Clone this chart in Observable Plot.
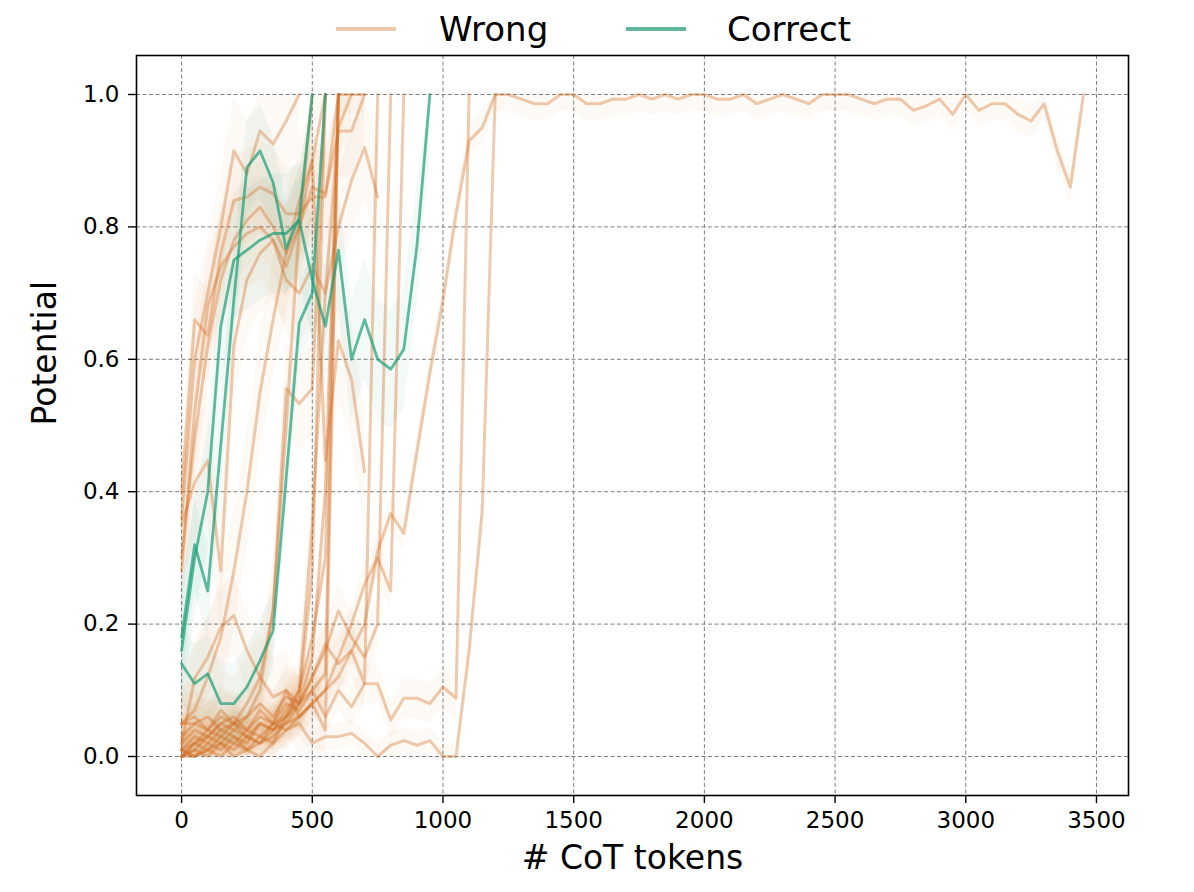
<!DOCTYPE html>
<html>
<head>
<meta charset="utf-8">
<script src="https://cdn.jsdelivr.net/npm/d3@7"></script>
<script src="https://cdn.jsdelivr.net/npm/@observablehq/plot@0.6"></script>
<style>
  body { margin: 0; background: #fff; font-family: "DejaVu Sans", sans-serif; }
  #wrap { position: relative; width: 1194px; height: 892px; }
  #legend { position: relative; width: 1194px; height: 50px; }
  .leg-line { position: absolute; height: 4px; top: 27px; width: 60px; }
  .leg-text { position: absolute; top: 9px; font-size: 34px; color: #000; line-height: 40px; }
</style>
</head>
<body>
<div id="wrap">
  <div id="legend">
    <div class="leg-line" style="left:336px;background:#ecc9ab;"></div>
    <div class="leg-text" style="left:439px;">Wrong</div>
    <div class="leg-line" style="left:626px;background:#60b898;"></div>
    <div class="leg-text" style="left:727px;">Correct</div>
  </div>
  <div id="chart"></div>
</div>
<script>
// sampling step of every trajectory (tokens)
const STEP = 50;
const xTicks = [0, 500, 1000, 1500, 2000, 2500, 3000, 3500];
const yTicks = [0, 0.2, 0.4, 0.6, 0.8, 1.0];

// ---- Wrong trajectories (potential every 50 tokens, starting at 0) ----
const w01 = [0.36,0.60,0.70,0.80,0.915,0.88,0.945,0.925,0.96,1.0];
const w02 = [0.40,0.66,0.636,0.76,0.84,0.845,0.86,0.85,0.82,0.82,0.845,0.845,1.0];
const w03 = [0.30,0.48,0.62,0.72,0.78,0.81,0.83,0.80,0.76,0.80,0.86,0.85,0.945,0.945,1.0];
const w04 = [0.35,0.414,0.447,0.28,0.62,0.72,0.76,0.78,0.74,0.80,0.90,1.0];
const w05 = [0.28,0.52,0.68,0.74,0.77,0.79,0.80,0.78,0.72,0.70,0.74,0.70,0.80,0.87,0.92,0.845];
const w06 = [0.03,0.05,0.04,0.06,0.05,0.08,0.12,0.22,0.556,0.533,0.556,1.0];
const w07 = [0.05,0.07,0.12,0.18,0.28,0.40,0.55,0.66,0.76,0.84,0.90,0.447,0.628,0.57,0.43];
const w08 = [0.0,0.02,0.01,0.03,0.02,0.04,0.03,0.05,0.06,0.08,0.10,0.125,1.0];
const w09 = [0.01,0.0,0.02,0.01,0.03,0.02,0.05,0.04,0.07,0.10,0.18,0.30,1.0,1.0,1.0];
const w10 = [0.05,0.06,0.04,0.07,0.05,0.06,0.08,0.06,0.09,0.08,0.12,0.16,0.22,0.18,0.15,0.20,1.0];
const w11 = [0.0,0.01,0.03,0.02,0.04,0.03,0.02,0.05,0.04,0.06,0.08,0.10,0.15,0.20,0.26,0.30,0.25,1.0];
const w12 = [0.02,0.04,0.03,0.05,0.06,0.04,0.07,0.05,0.10,0.08,0.12,0.17,0.14,0.16,0.11,1.0];
const w13 = [0.05,0.05,0.06,0.04,0.05,0.03,0.05,0.04,0.06,0.09,0.28,1.0];
const w14 = [0.01,0.03,0.02,0.04,0.03,0.01,0.02,0.03,0.05,0.08,0.15,0.40,1.0];
const w15 = [0.0,0.0,0.01,0.0,0.02,0.01,0.0,0.02,0.06,0.10,0.35,0.70,0.95,1.0];
const w16 = [0.02,0.118,0.15,0.195,0.213,0.16,0.12,0.09,0.10,0.06,0.08,0.04,1.0];
const w17 = [0.01,0.02,0.03,0.05,0.04,0.06,0.10,0.22,0.50,0.80,1.0];
const wB  = [0.0,0.02,0.04,0.03,0.05,0.04,0.06,0.05,0.08,0.07,0.10,0.06,0.10,0.075,0.11,0.11,0.055,0.088,0.088,0.08,0.105,0.088,1.0];
const wC  = [0.01,0.0,0.01,0.02,0.0,0.01,0.03,0.02,0.04,0.05,0.02,0.03,0.03,0.035,0.02,0.0,0.017,0.024,0.017,0.024,0.0,0.0,0.16,0.37,1.0];
const wLong = [0.0,0.01,0.0,0.02,0.01,0.03,0.02,0.04,0.05,0.06,0.08,0.10,0.12,0.16,0.20,0.31,0.367,0.337,0.46,0.58,0.69,0.82,0.93,0.95,1.0,
  1.0,0.993,0.986,0.986,1.0,1.0,0.986,0.986,0.993,0.993,1.0,0.993,1.0,0.993,1.0,
  1.0,0.993,0.993,1.0,0.986,0.993,1.0,0.993,0.986,1.0,1.0,1.0,0.993,0.986,0.993,0.993,0.976,0.983,0.993,0.97,
  1.0,0.976,0.986,0.986,0.97,0.96,0.986,0.915,0.86,1.0];
const wrongList = [w01,w02,w03,w04,w05,w06,w07,w08,w09,w10,w11,w12,w13,w14,w15,w16,w17,wB,wC,wLong];
// half-width of the shaded band for each wrong trajectory
const wrongSpread = [0.08,0.07,0.07,0.09,0.08,0.07,0.09,0.03,0.03,0.04,0.03,0.04,0.03,0.03,0.05,0.06,0.05,0.03,0.02,0.025];

// ---- Correct trajectories ----
const c1 = [0.18,0.32,0.25,0.47,0.69,0.89,0.915,0.867,0.767,0.814,1.0];
const c2 = [0.14,0.11,0.125,0.08,0.08,0.105,0.145,0.19,0.42,0.655,0.70,1.0];
const c3 = [0.16,0.30,0.40,0.65,0.75,0.765,0.78,0.79,0.79,0.81,0.72,0.65,0.765,0.60,0.66,0.60,0.585,0.615,0.77,1.0];
const correctList = [c1,c2,c3];
const correctSpread = [0.07,0.06,0.09];

function rowsOf(list, spreads, kind) {
  const out = [];
  list.forEach((vals, k) => {
    vals.forEach((v, i) => {
      out.push({id: kind + k, kind, x: i * STEP, y: v,
        lo: Math.max(0, v - spreads[k]), hi: Math.min(1, v + spreads[k])});
    });
  });
  return out;
}
const wrongRows = rowsOf(wrongList, wrongSpread, "w");
const correctRows = rowsOf(correctList, correctSpread, "c");

const WRONG = "#d2691e", CORRECT = "#1b9e77";
const font = "DejaVu Sans, sans-serif";
const grid = {stroke: "#7f7f7f", strokeOpacity: 1, strokeWidth: 1, strokeDasharray: "4,2.5"};

const chart = Plot.plot({
  width: 1194, height: 842,
  marginLeft: 136, marginRight: 66, marginTop: 5, marginBottom: 97,
  style: {fontFamily: font, background: "#fff"},
  x: {domain: [-172.5, 3622.5]},
  y: {domain: [-0.0589, 1.0589]},
  marks: [
    Plot.gridX(xTicks, grid),
    Plot.gridY(yTicks, grid),
    Plot.areaY(wrongRows, {x: "x", y1: "lo", y2: "hi", z: "id", fill: WRONG, fillOpacity: 0.045}),
    Plot.areaY(correctRows, {x: "x", y1: "lo", y2: "hi", z: "id", fill: CORRECT, fillOpacity: 0.06}),
    Plot.line(wrongRows, {x: "x", y: "y", z: "id", stroke: WRONG, strokeOpacity: 0.35, strokeWidth: 3}),
    Plot.line(correctRows, {x: "x", y: "y", z: "id", stroke: CORRECT, strokeOpacity: 0.7, strokeWidth: 2.8}),
    Plot.frame({stroke: "#000", strokeWidth: 1.6}),
    Plot.axisX(xTicks, {tickSize: 8, tickPadding: 8, fontSize: 23, label: null, tickFormat: d => String(d), stroke: "#000", strokeWidth: 1.4, fill: "#000"}),
    Plot.axisY(yTicks, {tickSize: 8, tickPadding: 9, fontSize: 23, label: null, tickFormat: d => d.toFixed(1), stroke: "#000", strokeWidth: 1.4, fill: "#000"}),
    Plot.text(["# CoT tokens"], {frameAnchor: "bottom", dy: 73, fontSize: 33, fill: "#000"}),
    Plot.text(["Potential"], {frameAnchor: "left", dx: -91, rotate: -90, fontSize: 33, fill: "#000"})
  ]
});
document.getElementById("chart").appendChild(chart);
</script>
</body>
</html>
